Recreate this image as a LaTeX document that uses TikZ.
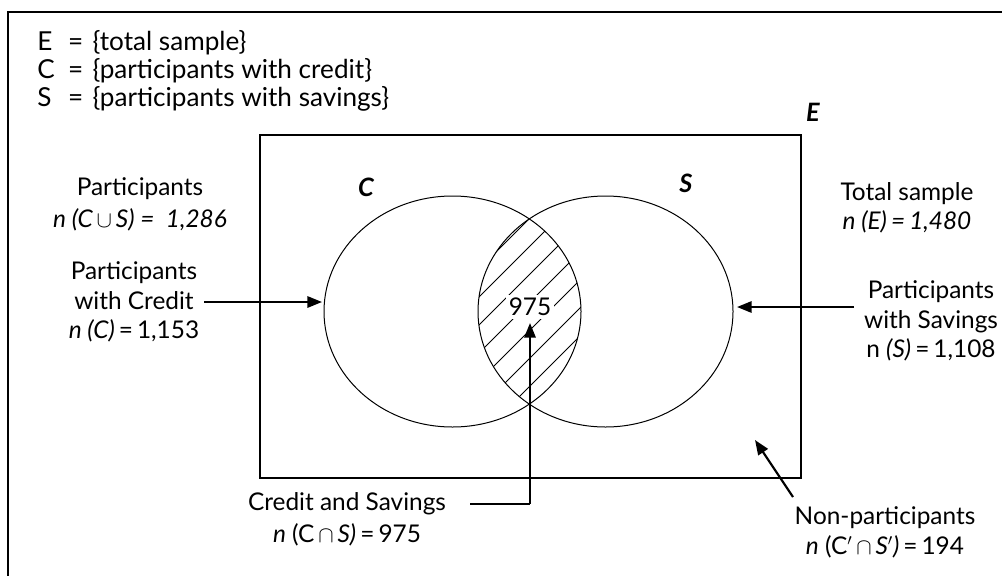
\documentclass[tikz,border=0pt]{standalone}
\usepackage{fontspec}
\setmainfont{Lato}
\usetikzlibrary{arrows.meta}
\tikzset{
  lbl/.style={font=\fontsize{18.3}{22}\selectfont, align=center, inner sep=0pt},
  setname/.style={font=\fontsize{19}{22}\selectfont\bfseries\itshape, inner sep=0pt},
  thinline/.style={line width=0.75pt},
  ptr/.style={line width=1.6pt, -{Triangle[length=11pt,width=8.5pt]}},
  hatch/.style={line width=0.6pt}
}
\begin{document}
\begin{tikzpicture}[x=0.75pt,y=-0.75pt]
\useasboundingbox (0,0) rectangle (1002,575);
\clip (0,0) rectangle (1002,575);
% outer frame (runs off the page at right and bottom)
\draw[line width=1.8pt] (8,12) rectangle (1030,600);
% legend
\node[font=\fontsize{19.6}{22}\selectfont, inner sep=0pt, anchor=north west, align=left] (legend) at (37,30)
  {\begin{tabular}{@{}l@{\hspace{10pt}}l@{}}E & =\hspace{7pt}\{total sample\}\\[-1pt]
   C & =\hspace{7pt}\{participants with credit\}\\[-1pt]
   S & =\hspace{7pt}\{participants with savings\}\end{tabular}};
% universe rectangle
\draw[line width=0.9pt] (260,135) rectangle (801,478);
\node[setname] (Elbl) at (813,112) {E};
% circles
\draw[thinline] (452.5,311.5) ellipse [x radius=128.5, y radius=115.5];
\draw[thinline] (605.5,311.5) ellipse [x radius=127.5, y radius=115.5];
\node[setname] (Clbl) at (366,187) {C};
\node[setname] (Slbl) at (686,183) {S};
% hatching of the intersection
\begin{scope}
  \clip (452.5,311.5) ellipse [x radius=128.5, y radius=115.5];
  \clip (605.5,311.5) ellipse [x radius=127.5, y radius=115.5];
  \foreach \c in {720,748,...,980} {
    \draw[hatch] (\c-480,480) -- (\c-150,150);
  }
\end{scope}
\node[font=\fontsize{18.3}{22}\selectfont, fill=white, inner sep=2pt] (lens) at (530,307) {975};
% labels
\node[lbl] (part) at (140,204) {Participants\\[2pt]\textit{n (C$\,\cup\,$S) = \ 1,286}};
\node[lbl] (pcred) at (134,302) {Participants\\with Credit\\\textit{n (C)}\,=\,1,153};
\node[lbl] (total) at (907,207.5) {Total sample\\\textit{n (E)\,=\,1,480}};
\node[lbl] (psav) at (931,321) {Participants\\with Savings\\n \textit{(S)}\,=\,1,108};
\node[lbl] (cands) at (347,519.5) {Credit and Savings\\[2pt]\textit{n} (C$\,\cap\,$\textit{S)}\,=\,975};
\node[lbl] (nonp) at (885,532.5) {Non-participants\\\textit{n} (C$'\,\cap\,$\textit{S$'$)}\,=\,194};
% connectors
\coordinate (cL) at (322,302);
\coordinate (sR) at (737,307);
\coordinate (eIn) at (755,440);
\coordinate (bend) at (530,504);
\coordinate (lensTip) at (530,323);
\draw[ptr] (204,302) -- (cL);
\draw[ptr] (854,307) -- (sR);
\draw[ptr] (793,497) -- (eIn);
\draw[line width=1.6pt] (470,504) -- (bend);
\draw[ptr] (bend) -- (lensTip);
\end{tikzpicture}
\end{document}
